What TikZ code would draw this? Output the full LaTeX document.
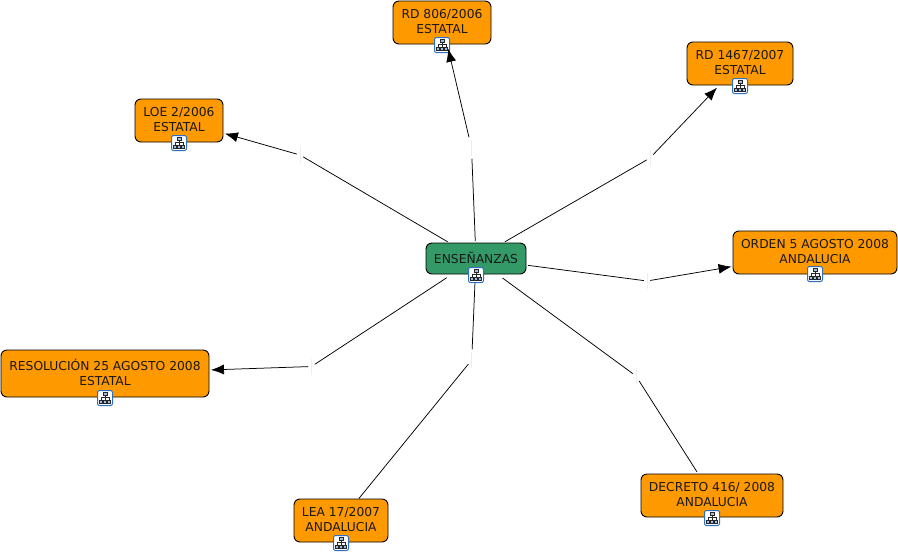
\documentclass[tikz,border=0pt]{standalone}
\usepackage{fontspec}
\setmainfont{DejaVu Sans}
\usetikzlibrary{arrows.meta}
\definecolor{orangebox}{HTML}{FF9900}
\definecolor{greenbox}{HTML}{339966}
\definecolor{iconblue}{HTML}{2E6FC0}
\tikzset{
  x=1pt,y=-1pt,
  concept/.style={draw=black,line width=0.9pt,rounded corners=6pt,fill=orangebox,text=black!90,
    align=center,font=\fontsize{12.3pt}{14.6pt}\selectfont,inner sep=0pt,text depth=2pt},
  link/.style={draw=gray!14,line width=0.8pt,minimum width=0.1pt,minimum height=15pt,inner sep=0pt,outer sep=3.2pt},
  conn/.style={line width=0.75pt,black,shorten <=1.5pt},
  arrowconn/.style={conn,shorten <=0pt,-{Latex[length=13pt,width=10pt]}},
  iconbox/.style={draw=iconblue,line width=1pt,fill=white,rounded corners=2pt,minimum size=15pt,inner sep=0pt},
}
\newcommand{\treeicon}[3]{%
  \node[iconbox] (#1) at (#2,#3) {};
  \begin{scope}[shift={(#2,#3)}]
    \draw[line width=0.7pt,black!85] (0,-3) -- (0,2.5) (-4,2.5) -- (-4,-0.5) -- (4,-0.5) -- (4,2.5);
    \draw[fill=iconblue!45,line width=0.6pt,draw=black!85] (-1.8,-6) rectangle (1.8,-3);
    \foreach \dx in {-4,0,4}{
      \draw[fill=iconblue!45,line width=0.6pt,draw=black!85] (\dx-1.6,2.5) rectangle (\dx+1.6,5.5);
    }
  \end{scope}
}
\begin{document}
\begin{tikzpicture}
\useasboundingbox (0,0) rectangle (898,555);
\fill[white] (0,0) rectangle (898,555);
% concepts
\node[concept,minimum width=98pt,minimum height=43pt] (rd806) at (442,22.5) {RD 806/2006\\ESTATAL};
\node[concept,minimum width=106pt,minimum height=43pt] (rd1467) at (740,63.5) {RD 1467/2007\\ESTATAL};
\node[concept,minimum width=88pt,minimum height=43pt] (loe) at (179,120.5) {LOE 2/2006\\ESTATAL};
\node[concept,fill=greenbox,minimum width=100pt,minimum height=31pt] (ens) at (476,258.5) {ENSEÑANZAS};
\node[concept,minimum width=164pt,minimum height=43pt] (orden) at (815,252.5) {ORDEN 5 AGOSTO 2008\\ANDALUCIA};
\node[concept,minimum width=208pt,minimum height=47pt] (res) at (105,373.5) {RESOLUCIÓN 25 AGOSTO 2008\\ESTATAL};
\node[concept,minimum width=94pt,minimum height=43pt] (lea) at (341,520.5) {LEA 17/2007\\ANDALUCIA};
\node[concept,minimum width=142pt,minimum height=43pt] (dec) at (712,495.5) {DECRETO 416/ 2008\\ANDALUCIA};
% link labels
\node[link] (l1) at (300,155) {};
\node[link] (l2) at (471.5,148) {};
\node[link] (l3) at (650,158) {};
\node[link] (l4) at (647,281) {};
\node[link] (l5) at (636,376) {};
\node[link] (l6) at (471.7,360) {};
\node[link] (l7) at (311.5,366.5) {};
\treeicon{i1}{442}{45}
% connectors
\draw[conn] (ens) -- (l1);
\draw[arrowconn,shorten >=1.5pt] (l1) -- (loe);
\draw[conn] (ens) -- (l2);
\draw[arrowconn,shorten >=4.5pt] (l2) -- (rd806);
\draw[conn] (ens) -- (l3);
\draw[arrowconn,shorten >=3pt] (l3) -- (rd1467);
\draw[conn] (ens) -- (l4);
\draw[arrowconn,shorten >=1pt] (l4) -- (orden);
\draw[conn,shorten <=6pt] (ens) -- (l5);
\draw[conn,shorten >=2pt,shorten <=0pt] (l5) -- (dec);
\draw[conn] (ens) -- (l6);
\draw[conn,shorten <=0pt] (l6) -- (lea);
\draw[conn,shorten <=6pt] (ens) -- (l7);
\draw[arrowconn,shorten >=1.5pt] (l7) -- (res);
% icons
\treeicon{i2}{740}{86}
\treeicon{i3}{179}{143}
\treeicon{i4}{476}{275}
\treeicon{i5}{815}{274}
\treeicon{i6}{105}{398}
\treeicon{i7}{341}{543}
\treeicon{i8}{712}{518}
\end{tikzpicture}
\end{document}
